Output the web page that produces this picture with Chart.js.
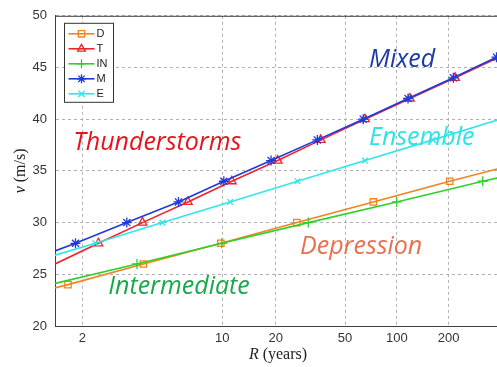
<!DOCTYPE html>
<html>
<head>
<meta charset="utf-8">
<script src="https://cdn.jsdelivr.net/npm/chart.js@4.4.1/dist/chart.umd.min.js"></script>
<style>
  html, body { margin: 0; padding: 0; background: #fff; overflow: hidden; }
  #wrap { width: 520px; height: 367px; }
</style>
</head>
<body>
<div id="wrap"><canvas id="c" width="520" height="367"></canvas></div>
<script>
// return period (years) and wind speed (m/s)
// first / last entries are where each line meets the plot edges
const seriesNames = ['D', 'T', 'IN', 'M', 'E'];

const dYears = [1.582, 1.76, 3.81, 9.82, 26.4, 72.9, 203, 403.9];
const dSpeed = [23.68, 24, 26, 28, 30, 32, 34, 35.28];

const tYears = [1.582, 2.34, 3.77, 6.49, 11.3, 20.5, 36.2, 65.2, 119, 218, 392, 403.9];
const tSpeed = [26.0, 28, 30, 32, 34, 36, 38, 40, 42, 44, 46, 46.1];

const inYears = [1.582, 3.54, 9.94, 30.7, 99.7, 316, 403.9];
const inSpeed = [24.12, 26, 28, 30, 32, 34, 34.4];

const mYears = [1.582, 1.88, 3.16, 5.78, 10.2, 18.8, 34.6, 63.7, 116, 213, 380, 403.9];
const mSpeed = [27.26, 28, 30, 32, 34, 36, 38, 40, 42, 44, 46, 46.2];

const eYears = [1.582, 2.27, 4.76, 11.05, 26.6, 65.2, 162, 398, 403.9];
const eSpeed = [26.85, 28, 30, 32, 34, 36, 38, 40, 40.03];

const tickYears = [2, 10, 20, 50, 100, 200];
const speedMin = 20, speedMax = 50, speedStep = 5;
const xMinYears = 1.582, xMaxYears = 403.9;

// text labels on the plot, anchored in data units (left edge, baseline)
const notes = [
  { text: 'Thunderstorms', years: 1.843, speed: 36.98, color: '#e8121c' },
  { text: 'Mixed',         years: 68.8,  speed: 45.01, color: '#1d3aa6' },
  { text: 'Ensemble',      years: 68.8,  speed: 37.46, color: '#2de3e6' },
  { text: 'Depression',    years: 27.5,  speed: 26.95, color: '#e8704f' },
  { text: 'Intermediate',  years: 2.587, speed: 23.06, color: '#1aa84c' },
];

// gumbel reduced variate: the x axis is linear in this
function gumbel(R) { return -Math.log(-Math.log(1 - 1 / R)); }

function makeSet(label, years, speeds, color, style, radius, order) {
  const last = years.length - 1;
  return {
    label: label,
    data: years.map((r, i) => ({ x: gumbel(r), y: speeds[i] })),
    borderColor: color,
    backgroundColor: 'rgba(0,0,0,0)',
    borderWidth: 1.6,
    pointStyle: style,
    pointRadius: ctx => (ctx.dataIndex === 0 || ctx.dataIndex === last) ? 0 : radius,
    pointHoverRadius: 0,
    pointBorderWidth: 1.3,
    pointBorderColor: color,
    pointBackgroundColor: 'rgba(0,0,0,0)',
    tension: 0,
    order: order,
  };
}

const datasets = [
  makeSet(seriesNames[0], dYears, dSpeed, '#f2831f', 'rect', 4.5, 4),
  makeSet(seriesNames[1], tYears, tSpeed, '#f0222a', 'triangle', 5, 3),
  makeSet(seriesNames[2], inYears, inSpeed, '#2ed12a', 'cross', 5, 2),
  makeSet(seriesNames[3], mYears, mSpeed, '#1f3ad6', 'star', 5, 1),
  makeSet(seriesNames[4], eYears, eSpeed, '#30e6ea', 'crossRot', 4, 0),
];

function drawMixedLabel(ctx, parts, cx, cy, rotate) {
  ctx.save();
  ctx.translate(cx, cy);
  if (rotate) ctx.rotate(-Math.PI / 2);
  let total = 0;
  parts.forEach(p => { ctx.font = p.font; total += ctx.measureText(p.text).width; });
  let x = -total / 2;
  ctx.fillStyle = '#222';
  ctx.textBaseline = 'middle';
  ctx.textAlign = 'left';
  parts.forEach(p => {
    ctx.font = p.font;
    ctx.fillText(p.text, x, 0);
    x += ctx.measureText(p.text).width;
  });
  ctx.restore();
}

const overlay = {
  id: 'overlay',
  afterDatasetsDraw(chart) {
    const ctx = chart.ctx;
    const xs = chart.scales.x, ys = chart.scales.y;
    ctx.save();
    ctx.font = 'italic 25px "Open Sans"';
    ctx.textBaseline = 'alphabetic';
    ctx.textAlign = 'left';
    notes.forEach(n => {
      ctx.fillStyle = n.color;
      ctx.fillText(n.text, xs.getPixelForValue(gumbel(n.years)), ys.getPixelForValue(n.speed));
    });
    ctx.restore();
  },
  afterDraw(chart) {
    const ctx = chart.ctx;
    const a = chart.chartArea;
    ctx.save();
    // top border of the axes box
    ctx.strokeStyle = '#404040';
    ctx.lineWidth = 1;
    ctx.beginPath();
    ctx.moveTo(a.left, a.top + 0.5);
    ctx.lineTo(a.right, a.top + 0.5);
    ctx.stroke();

    // legend box
    const lx = a.left + 9.5, ly = a.top + 7.5, lw = 49, lh = 79;
    ctx.fillStyle = '#fff';
    ctx.fillRect(lx, ly, lw, lh);
    ctx.strokeStyle = '#333';
    ctx.strokeRect(lx, ly, lw, lh);
    chart.data.datasets.forEach((ds, i) => {
      const y = ly + 10.5 + i * 15;
      ctx.strokeStyle = ds.borderColor;
      ctx.lineWidth = 1.6;
      ctx.beginPath();
      ctx.moveTo(lx + 4, y);
      ctx.lineTo(lx + 30, y);
      ctx.stroke();
      ctx.lineWidth = 1.3;
      ctx.fillStyle = 'rgba(0,0,0,0)';
      Chart.helpers.drawPoint(ctx, { pointStyle: ds.pointStyle, radius: 4.5, borderWidth: 1.3, rotation: 0 }, lx + 17, y);
      ctx.fillStyle = '#222';
      ctx.font = '11px "Liberation Sans"';
      ctx.textBaseline = 'middle';
      ctx.textAlign = 'left';
      ctx.fillText(ds.label, lx + 32, y + 0.5);
    });

    // axis titles
    drawMixedLabel(ctx, [
      { text: 'v', font: 'italic 16px "Liberation Serif"' },
      { text: ' (m/s)', font: '16px "Liberation Serif"' },
    ], 21, (a.top + a.bottom) / 2, true);
    drawMixedLabel(ctx, [
      { text: 'R', font: 'italic 16px "Liberation Serif"' },
      { text: ' (years)', font: '16px "Liberation Serif"' },
    ], (a.left + a.right) / 2, 355, false);
    ctx.restore();
  }
};

const tickFont = { family: '"Liberation Sans", Arial, sans-serif', size: 13 };

new Chart(document.getElementById('c'), {
  type: 'line',
  data: { datasets: datasets },
  options: {
    responsive: false,
    animation: false,
    events: [],
    layout: { padding: { top: 15, right: 19, left: 0, bottom: 0 } },
    plugins: { legend: { display: false }, tooltip: { enabled: false } },
    scales: {
      x: {
        type: 'linear',
        min: gumbel(xMinYears),
        max: gumbel(xMaxYears),
        afterBuildTicks: s => { s.ticks = tickYears.map(r => ({ value: gumbel(r) })); },
        afterFit: s => { s.height = 41; },
        ticks: {
          callback: (v, i) => tickYears[i],
          font: tickFont, color: '#333', padding: 5,
          maxRotation: 0, autoSkip: false,
        },
        grid: { color: '#b2b2b2', lineWidth: 1, drawTicks: false },
        border: { display: true, color: '#404040', width: 1, dash: [3, 3] },
      },
      y: {
        min: speedMin,
        max: speedMax,
        afterFit: s => { s.width = 55; },
        ticks: { stepSize: speedStep, font: tickFont, color: '#333', padding: 8 },
        grid: { color: '#b2b2b2', lineWidth: 1, drawTicks: false },
        border: { display: true, color: '#404040', width: 1, dash: [3, 3] },
      },
    },
  },
  plugins: [overlay],
});
</script>
</body>
</html>
